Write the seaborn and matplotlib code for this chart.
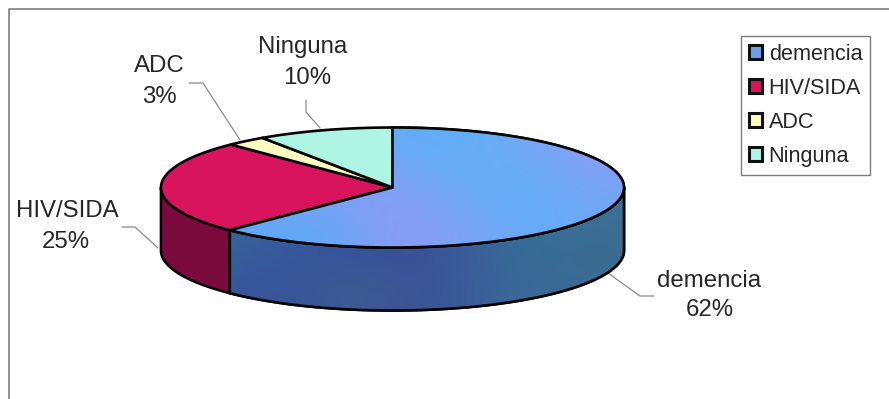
import numpy as np
import matplotlib
matplotlib.use("Agg")
import matplotlib.pyplot as plt
from matplotlib.colors import to_rgb
from matplotlib.patches import Patch, Polygon
import seaborn as sns

categories = ["demencia", "HIV/SIDA", "ADC", "Ninguna"]
values = [62.4, 25.3, 2.8, 9.5]
top_colors = ["#6f9df2", "#d8155c", "#fdfcc0", "#aef5e4"]
side_colors = ["#35619a", "#7a0b3c", "#8a8a60", "#5f9a90"]

sns.set_theme(style="white")
plt.rcParams["font.family"] = ["Liberation Sans", "DejaVu Sans"]
TEXT = "#262626"

fig = plt.figure(figsize=(8.89, 3.99), dpi=100, facecolor="white")
ax = fig.add_axes([0, 0, 1, 1])

CX, CY, RX, RY, DEPTH = 392.5, 187.5, 231.5, 60.0, 63.0


def rim(t0, t1, dy=0.0):
    t = np.radians(np.linspace(t0, t1, 160))
    return np.column_stack([CX + RX * np.sin(t), CY + dy - RY * np.cos(t)])


def gradient(clip, grid, extent, z):
    rgb = np.array([[to_rgb(c) for c in row] for row in grid])
    im = ax.imshow(rgb, extent=extent, aspect="auto", interpolation="bicubic", zorder=z)
    im.set_clip_path(clip)


edges = np.concatenate([[0], np.cumsum(values)]) * 360.0 / sum(values)

# visible side walls (front half of the disc only)
for i, cat in enumerate(categories):
    a, b = max(edges[i], 90), min(edges[i + 1], 270)
    if a >= b:
        continue
    outline = np.vstack([rim(a, b), rim(a, b, DEPTH)[::-1]])
    wall = Polygon(outline, closed=True, fc=side_colors[i], ec="#050505", lw=1.9,
                   joinstyle="round", zorder=2)
    ax.add_patch(wall)
    if cat == "demencia":
        gradient(wall,
                 [["#3c7098", "#3a6a9c", "#2f4f98", "#3a5a9a", "#356f96", "#40709a"],
                  ["#3a6498", "#37589c", "#34519a", "#3c4c9a", "#37709a", "#3a6c8e"],
                  ["#3c5c9c", "#34509a", "#3f5f90", "#3a4f96", "#3a6a9a", "#3c6c96"]],
                 (160, 626, 310, 180), 3)
        ax.add_patch(Polygon(outline, closed=True, fc="none", ec="#050505", lw=1.9, zorder=4))

# top faces
for i, cat in enumerate(categories):
    pts = np.vstack([[[CX, CY]], rim(edges[i], edges[i + 1])])
    face = Polygon(pts, closed=True, fc=top_colors[i], ec="#050505", lw=1.9,
                   joinstyle="round", zorder=5)
    ax.add_patch(face)
    if cat == "demencia":
        gradient(face,
                 [["#6fa0f2", "#7aa0f4", "#62acf6", "#5eb0f6", "#74a8f6", "#8c9cf6"],
                  ["#7b9ff2", "#82a0f4", "#8a9cf4", "#68acf6", "#5cb0f6", "#7aa4f6"],
                  ["#62a8f4", "#5faaf6", "#8f9af2", "#80a0f4", "#64acf6", "#6aa8f4"]],
                 (228, 626, 248, 126), 5.5)
        ax.add_patch(Polygon(pts, closed=True, fc="none", ec="#050505", lw=1.9, zorder=6))

# labels with leader lines
label_pos = {"demencia": (709, 281), "HIV/SIDA": (67, 211), "ADC": (159, 66), "Ninguna": (303, 47)}
pct_pos = {"demencia": (710, 310), "HIV/SIDA": (66, 242), "ADC": (159, 97), "Ninguna": (307, 78)}
leaders = {
    "demencia": [(608, 273), (640, 296), (654, 296)],
    "HIV/SIDA": [(158, 248), (135, 227), (122, 227)],
    "ADC": [(240, 140), (203, 83), (189, 83)],
    "Ninguna": [(320, 128), (306, 112), (306, 100)],
}
for cat, val in zip(categories, values):
    ax.text(*label_pos[cat], cat, ha="center", va="center", fontsize=17.3, color=TEXT, zorder=8)
    ax.text(*pct_pos[cat], f"{val:.0f}%", ha="center", va="center", fontsize=17.3, color=TEXT, zorder=8)
    xs, ys = zip(*leaders[cat])
    ax.plot(xs, ys, color="#8a8a8a", lw=0.9, zorder=1)

# chart frame (open towards right and bottom, as cropped)
ax.plot([9, 9, 889], [399, 8.5, 8.5], color="#7d7d7d", lw=1.2, zorder=1)

ax.set_xlim(0, 889)
ax.set_ylim(399, 0)
ax.axis("off")

handles = [Patch(fc=c, ec="#101010", lw=2.2) for c in top_colors]
leg = ax.legend(handles, categories, loc="upper left",
                bbox_to_anchor=(741 / 889, 1 - 36 / 399), bbox_transform=fig.transFigure,
                fontsize=15.6, frameon=True, fancybox=False, framealpha=1,
                edgecolor="#7d7d7d", borderpad=0.36, labelspacing=0.6,
                handlelength=0.62, handleheight=0.62, handletextpad=0.3, borderaxespad=0)
leg.get_frame().set_linewidth(1.0)
for t in leg.get_texts():
    t.set_color(TEXT)
leg.set_zorder(9)

fig.savefig("out.png", dpi=100, facecolor="white")
